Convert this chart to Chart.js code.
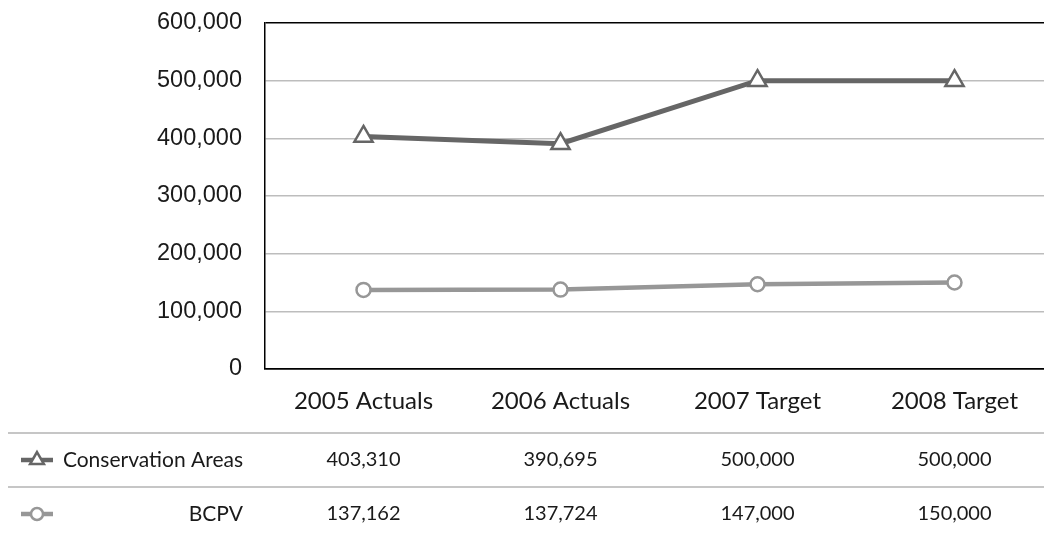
<!DOCTYPE html>
<html>
<head>
<meta charset="utf-8">
<script src="https://cdn.jsdelivr.net/npm/chart.js@4"></script>
<style>
  html, body { margin: 0; padding: 0; background: #fff; overflow: hidden; }
  #wrap { width: 1066px; height: 536px; }
</style>
</head>
<body>
<div id="wrap"><canvas id="chart" width="1066" height="536"></canvas></div>
<script>
// Categories and series
const categories = ['2005 Actuals', '2006 Actuals', '2007 Target', '2008 Target'];
const conservationAreas = [403310, 390695, 500000, 500000];
const bcpv = [137162, 137724, 147000, 150000];
const seriesNames = ['Conservation Areas', 'BCPV'];

// Value axis range
const yMin = 0;
const yMax = 600000;
const yStep = 100000;

const darkGray = '#666666';
const lightGray = '#979797';
const fmt = v => v.toLocaleString('en-US');

// Data table drawn under the category axis, aligned to the x scale
const dataTable = {
  id: 'dataTable',
  afterDraw(chart) {
    const { ctx, scales: { x } } = chart;
    const rows = chart.data.datasets;
    const firstLine = 433, rowH = 54;
    ctx.save();
    rows.forEach((ds, r) => {
      const lineY = firstLine + r * rowH;
      const cy = lineY + 27;
      // separator
      ctx.strokeStyle = '#c6c6c6';
      ctx.lineWidth = 2;
      ctx.beginPath();
      ctx.moveTo(8, lineY);
      ctx.lineTo(chart.width, lineY);
      ctx.stroke();
      // legend key
      ctx.strokeStyle = ds.borderColor;
      ctx.lineWidth = 4.5;
      ctx.beginPath();
      ctx.moveTo(21, cy);
      ctx.lineTo(53, cy);
      ctx.stroke();
      ctx.fillStyle = '#fff';
      ctx.lineWidth = 2.5;
      ctx.beginPath();
      if (ds.pointStyle === 'triangle') {
        const rr = 8;
        ctx.moveTo(37, cy - rr);
        ctx.lineTo(37 + rr * 0.866, cy + rr / 2);
        ctx.lineTo(37 - rr * 0.866, cy + rr / 2);
        ctx.closePath();
      } else {
        ctx.arc(37, cy, 6, 0, Math.PI * 2);
      }
      ctx.fill();
      ctx.stroke();
      // series name
      ctx.fillStyle = '#1a1a1a';
      ctx.font = '21px Lato';
      ctx.textBaseline = 'middle';
      ctx.textAlign = 'right';
      ctx.fillText(ds.label, 243, cy);
      // values
      ctx.font = '20px Lato';
      ctx.textAlign = 'center';
      ds.data.forEach((v, i) => {
        ctx.fillText(fmt(v), x.getPixelForValue(i), cy);
      });
    });
    ctx.restore();
  }
};

new Chart(document.getElementById('chart'), {
  type: 'line',
  data: {
    labels: categories,
    datasets: [
      {
        label: seriesNames[0],
        data: conservationAreas,
        borderColor: darkGray,
        borderWidth: 5,
        pointStyle: 'triangle',
        pointRadius: 10.5,
        pointBorderWidth: 2.5,
        pointBackgroundColor: '#ffffff',
        pointBorderColor: darkGray,
        tension: 0
      },
      {
        label: seriesNames[1],
        data: bcpv,
        borderColor: lightGray,
        borderWidth: 4.5,
        pointStyle: 'circle',
        pointRadius: 7,
        pointBorderWidth: 2.5,
        pointBackgroundColor: '#ffffff',
        pointBorderColor: lightGray,
        tension: 0
      }
    ]
  },
  options: {
    responsive: false,
    animation: false,
    devicePixelRatio: 1,
    layout: { padding: { top: 23, right: 1, bottom: 117, left: 0 } },
    plugins: { legend: { display: false }, tooltip: { enabled: false } },
    scales: {
      x: {
        offset: true,
        grid: { display: false, drawTicks: false },
        border: { display: true, color: '#000', width: 1.5 },
        ticks: {
          padding: 18,
          color: '#1a1a1a',
          font: { family: 'Lato', size: 24 }
        },
        afterFit(scale) { scale.height = 50; }
      },
      y: {
        min: yMin,
        max: yMax,
        grid: {
          drawTicks: false,
          color: ctx => (ctx.tick && (ctx.tick.value === yMax || ctx.tick.value === yMin)) ? '#000' : '#bdbdbd',
          lineWidth: 1.5
        },
        border: { display: true, color: '#000', width: 1.5 },
        ticks: {
          stepSize: yStep,
          padding: 23,
          color: '#1a1a1a',
          font: { family: 'Liberation Sans', size: 23.5 },
          callback: v => fmt(v)
        },
        afterFit(scale) {
          scale.width = 265;
          scale.paddingTop = 0;
          scale.paddingBottom = 0;
        }
      }
    }
  },
  plugins: [dataTable]
});
</script>
</body>
</html>
